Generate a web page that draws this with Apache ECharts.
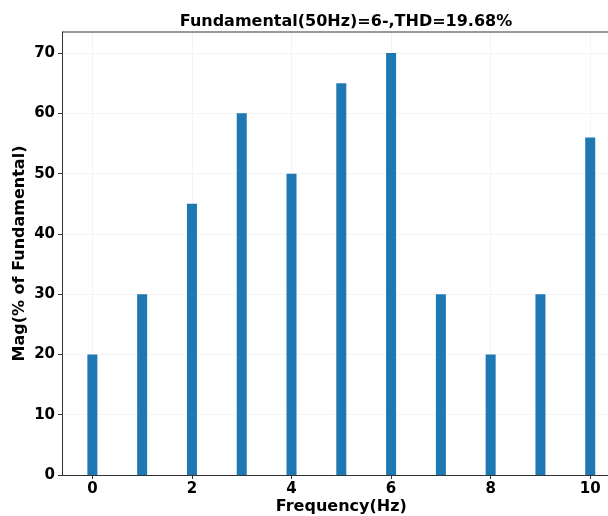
<!DOCTYPE html>
<html><head><meta charset="utf-8">
<script src="https://cdn.jsdelivr.net/npm/echarts@6/dist/echarts.min.js"></script>
<style>html,body{margin:0;padding:0;background:#fff}#c{width:608px;height:516px}</style>
</head><body><div id="c"></div>
<script>
const titleText = 'Fundamental(50Hz)=6-,THD=19.68%';
const xName = 'Frequency(Hz)';
const yName = 'Mag(% of Fundamental)';
const frequencies = [0, 1, 2, 3, 4, 5, 6, 7, 8, 9, 10];
const magnitudes = [20, 30, 45, 60, 50, 65, 70, 30, 20, 30, 56];
const xTicks = [0, 2, 4, 6, 8, 10];
const yTicks = [0, 10, 20, 30, 40, 50, 60, 70];

const font = 'DejaVu Sans';
const chart = echarts.init(document.getElementById('c'), null, {renderer: 'canvas'});
const gridLines = xTicks.map(v => ({xAxis: v})).concat(yTicks.slice(1).map(v => ({yAxis: v})));
chart.setOption({
  animation: false,
  backgroundColor: '#fff',
  title: {text: titleText, left: 341, textAlign: 'center', top: 9,
    textStyle: {fontFamily: font, fontWeight: 'bold', fontSize: 16, color: '#000'}},
  grid: {left: 62, top: 32, width: 558.6, height: 443, containLabel: false, outerBoundsMode: 'none'},
  xAxis: {
    type: 'value', min: -0.61, max: 10.61,
    name: xName, nameLocation: 'middle', nameGap: 24, nameMoveOverlap: false,
    nameTextStyle: {fontFamily: font, fontWeight: 'bold', fontSize: 16, color: '#000'},
    axisLine: {show: true, onZero: false, lineStyle: {color: '#333', width: 1}},
    axisTick: {show: true, customValues: xTicks, length: 4, lineStyle: {color: '#333'}},
    axisLabel: {customValues: xTicks, margin: 7, fontFamily: font, fontWeight: 'bold', fontSize: 15, color: '#000'},
    splitLine: {show: false}
  },
  yAxis: {
    type: 'value', min: 0, max: 73.5,
    name: yName, nameLocation: 'middle', nameGap: 34, nameMoveOverlap: false,
    nameTextStyle: {fontFamily: font, fontWeight: 'bold', fontSize: 16, color: '#000'},
    axisLine: {show: true, onZero: false, lineStyle: {color: '#333', width: 1}},
    axisTick: {show: true, customValues: yTicks, length: 4, lineStyle: {color: '#333'}},
    axisLabel: {customValues: yTicks, margin: 7, fontFamily: font, fontWeight: 'bold', fontSize: 15, color: '#000'},
    splitLine: {show: false}
  },
  graphic: [{type: 'line', shape: {x1: 62, y1: 32, x2: 620, y2: 32}, style: {stroke: '#333', lineWidth: 1}, z: 10}],
  series: [{
    type: 'bar', barWidth: 10,
    data: frequencies.map((f, i) => [f, magnitudes[i]]),
    itemStyle: {color: '#1f77b4'},
    markLine: {silent: true, symbol: 'none', label: {show: false},
      lineStyle: {color: '#f4f4f4', width: 1, type: 'solid'}, z: 0, data: gridLines}
  }]
});
</script></body></html>
